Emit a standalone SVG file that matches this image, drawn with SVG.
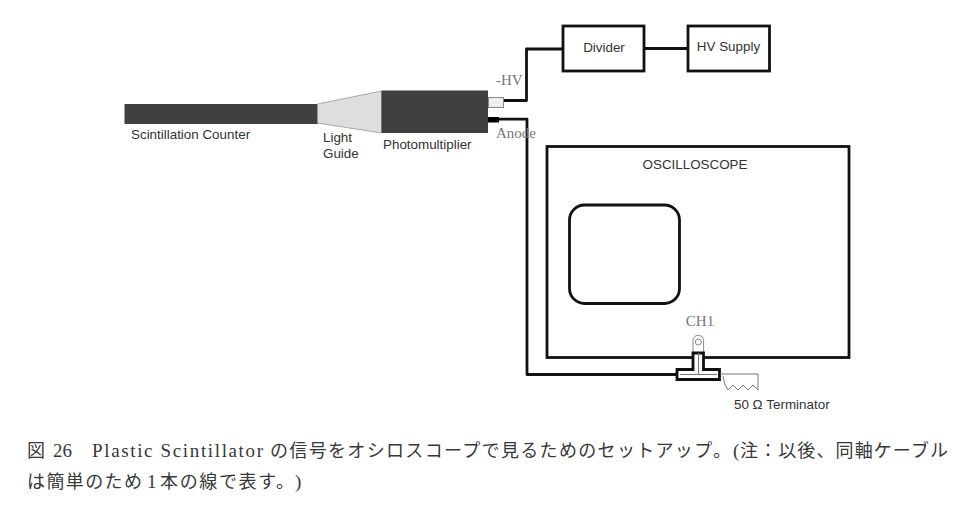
<svg xmlns="http://www.w3.org/2000/svg" width="963" height="510" viewBox="0 0 963 510">
<style>
.s{font-family:"Liberation Sans",Arial,sans-serif;font-size:13.400px;fill:#333}
.t{font-family:"Liberation Serif","Times New Roman",serif;font-size:15px;fill:#777}
.c{font-family:"Noto Sans CJK JP",sans-serif;font-size:18px;fill:#383838}
.l{font-family:"Liberation Serif","Times New Roman",serif;font-size:19px;fill:#383838}
.b{fill:#fff;stroke:#111;stroke-width:2.800}
.w{fill:none;stroke:#111;stroke-width:2.800;stroke-linejoin:round}
.g{fill:none;stroke:#777;stroke-width:1}
</style>
<rect width="963" height="510" fill="#fff"/>
<g id="connectors">
<path class="w" d="M503 100.500H526.500V49H563"/>
<path class="w" d="M499 119.200H527V374.500H678"/>
<path class="w" d="M644 48.500H688"/>
</g>
<g id="counter"><rect x="124.500" y="104" width="193.500" height="20" fill="#404040"/><text class="s" x="131" y="139">Scintillation Counter</text></g>
<g id="guide"><path d="M317.500 104L381.500 91V133L317.500 123Z" fill="#dedede" stroke="#999" stroke-width="0.800"/><text class="s" x="323" y="142">Light</text><text class="s" x="323" y="158">Guide</text></g>
<g id="pmt"><rect x="381.500" y="90.500" width="106.500" height="42.500" fill="#404040"/><text class="s" x="383" y="149">Photomultiplier</text>
<rect x="488.500" y="97.500" width="15" height="10" fill="#eee" stroke="#888" stroke-width="1"/><rect x="488" y="117" width="11" height="5.500" fill="#000"/>
<text class="t" x="496" y="85">-HV</text><text class="t" x="496" y="138">Anode</text></g>
<g id="divider"><rect class="b" x="563" y="26" width="81" height="45"/><text class="s" x="604" y="52" text-anchor="middle">Divider</text></g>
<g id="hv"><rect class="b" x="688" y="26" width="81.500" height="45"/><text class="s" x="728.500" y="51" text-anchor="middle">HV Supply</text></g>
<g id="scope"><rect class="b" x="547" y="146.500" width="302" height="211"/><rect class="b" x="569.500" y="205" width="110" height="98.500" rx="15"/><text class="s" x="695" y="169" text-anchor="middle">OSCILLOSCOPE</text><text class="t" x="700" y="326" text-anchor="middle">CH1</text></g>
<g id="tee">
<path d="M693 353V340.500A5.300 5.300 0 0 1 703.600 340.500V353" fill="#fff" stroke="#888" stroke-width="1"/><circle cx="698.300" cy="342" r="3" fill="#fff" stroke="#888" stroke-width="1"/>
<path class="b" d="M693 353H703.500V369.500H719.500V379.500H677V369.500H693Z"/>
<path class="g" d="M698.500 353V374.500M680 374.500H717"/>
<path class="g" d="M720 374H758V390L753 385L748 390L743 385L738 390L733 385L728 390L725 385L723 376"/>
<text class="s" x="734" y="409">50 Ω Terminator</text>
</g>
<g id="caption">
<text class="c" x="27" y="457">図</text>
<text class="l" x="53" y="457">26</text>
<text class="l" x="92" y="457" textLength="171" lengthAdjust="spacing">Plastic Scintillator</text>
<text class="c" x="270" y="457" textLength="461" lengthAdjust="spacing">の信号をオシロスコープで見るためのセットアップ。</text>
<text class="l" x="733" y="457">(</text>
<text class="c" x="740" y="457" textLength="208" lengthAdjust="spacing">注：以後、同軸ケーブル</text>
<text class="c" x="27" y="488" textLength="115" lengthAdjust="spacing">は簡単のため</text>
<text class="l" x="147" y="488">1</text>
<text class="c" x="160" y="488" textLength="134" lengthAdjust="spacing">本の線で表す。</text>
<text class="l" x="295" y="488">)</text>
</g>
</svg>
